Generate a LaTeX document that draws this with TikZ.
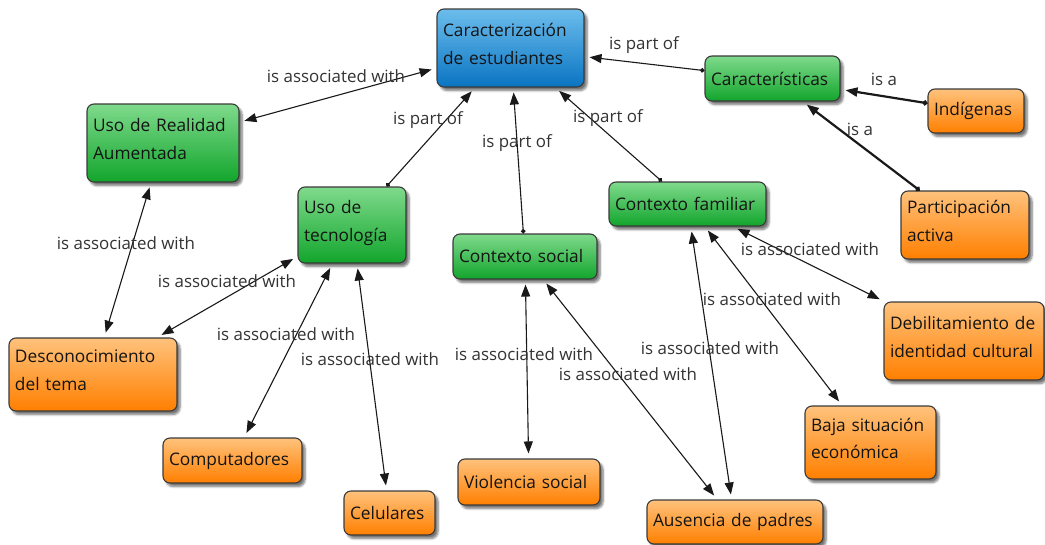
\documentclass[tikz,border=0pt]{standalone}
\usepackage{fontspec}
\setmainfont{Open Sans}
\usetikzlibrary{arrows.meta,shadows.blur}

\definecolor{blueTop}{HTML}{6CBDEC}
\definecolor{blueBot}{HTML}{0A74C2}
\definecolor{greenTop}{HTML}{7FDA8C}
\definecolor{greenBot}{HTML}{12A52C}
\definecolor{orangeTop}{HTML}{FFC27C}
\definecolor{orangeBot}{HTML}{FF7F00}
\definecolor{edgeGray}{HTML}{3A3A3A}
\definecolor{labelGray}{HTML}{333333}

% extra depth below the last line lifts two-line texts slightly
\newcommand\lowpad{\rule[-8.5pt]{0pt}{0pt}}

\tikzset{
  concept/.style={draw=edgeGray, line width=1.1pt, rounded corners=7pt,
    align=left, inner xsep=6pt, inner ysep=0pt, text=black!92,
    font=\fontsize{17.3}{27.5}\selectfont,
    blur shadow={shadow xshift=3pt, shadow yshift=-3.5pt,
      shadow blur steps=6, shadow opacity=55}},
  mainbox/.style={concept, top color=blueTop, bottom color=blueBot},
  subbox/.style={concept, top color=greenTop, bottom color=greenBot},
  leafbox/.style={concept, top color=orangeTop, bottom color=orangeBot},
  linklabel/.style={font=\fontsize{16.9}{19}\selectfont, text=labelGray, inner sep=0pt},
  tipA/.tip={Triangle[length=12pt,width=9pt]},
  assoc/.style={tipA-tipA, line width=1.1pt, draw=black!90,
    shorten <=5pt, shorten >=5pt},
  partof/.style={{Circle[length=4.5pt]}-tipA, line width=1.1pt, draw=black!90,
    shorten >=5pt},
  isa/.style={{Circle[length=5pt]}-tipA, line width=2.2pt, draw=black!90,
    shorten >=5pt}
}

\begin{document}
\begin{tikzpicture}[x=1pt,y=-1pt]
\useasboundingbox (0,0) rectangle (1045,544);

% concepts
\node[mainbox, text width=135pt, minimum height=78pt] (est) at (510.5,48)
  {Caracterización\\de estudiantes\lowpad};
\node[subbox, text width=123pt, minimum height=45pt] (car) at (772.5,78.5)
  {Características};
\node[leafbox, text width=84pt, minimum height=44pt] (ind) at (976,111)
  {Indígenas};
\node[leafbox, text width=116pt, minimum height=68pt] (par) at (965,225)
  {Participación\\activa\lowpad};
\node[subbox, text width=140pt, minimum height=78pt] (ura) at (163,143)
  {Uso de Realidad\\Aumentada\lowpad};
\node[subbox, text width=96pt, minimum height=76pt] (tec) at (352,225)
  {Uso de\\tecnología\lowpad};
\node[subbox, text width=132pt, minimum height=45pt] (soc) at (525,256.5)
  {Contexto social};
\node[subbox, text width=145pt, minimum height=44pt] (fam) at (687.5,204)
  {Contexto familiar};
\node[leafbox, text width=156pt, minimum height=73pt] (des) at (93,374.5)
  {Desconocimiento\\del tema\lowpad};
\node[leafbox, text width=127pt, minimum height=45pt] (com) at (232.5,460.5)
  {Computadores};
\node[leafbox, text width=79pt, minimum height=44pt] (cel) at (389.5,513)
  {Celulares};
\node[leafbox, text width=130pt, minimum height=46pt] (vio) at (529,482)
  {Violencia social};
\node[leafbox, text width=164pt, minimum height=44pt] (aus) at (735,522)
  {Ausencia de padres};
\node[leafbox, text width=119pt, minimum height=73pt] (bsi) at (870.5,442.5)
  {Baja situación\\económica\lowpad};
\node[leafbox, text width=148pt, minimum height=78pt] (deb) at (964,341)
  {Debilitamiento de\\identidad cultural\lowpad};

% links
\draw[partof] (car) -- (est);
\draw[assoc] (est) -- (ura);
\draw[partof] (tec) -- (est);
\draw[partof] (soc) -- (est);
\draw[partof] (fam) -- (est);
\draw[isa] (ind) -- (car);
\draw[isa] (par) -- (car);
\draw[assoc] (ura) -- (des);
\draw[assoc] (tec) -- (des);
\draw[assoc] (tec) -- (com);
\draw[assoc] (tec) -- (cel);
\draw[assoc] (soc) -- (vio);
\draw[assoc] (soc) -- (aus);
\draw[assoc] (fam) -- (aus);
\draw[assoc] (fam) -- (bsi);
\draw[assoc] (fam) -- (deb);

% link labels
\node[linklabel] (l1) at (644,45) {is part of};
\node[linklabel] (l2) at (336,76) {is associated with};
\node[linklabel] (l3) at (884,79) {is a};
\node[linklabel] (l4) at (860,129) {is a};
\node[linklabel] (l5) at (428,120) {is part of};
\node[linklabel] (l6) at (517,143) {is part of};
\node[linklabel] (l7) at (608,118) {is part of};
\node[linklabel] (l8) at (126,243) {is associated with};
\node[linklabel] (l9) at (227,281) {is associated with};
\node[linklabel] (l10) at (286,334) {is associated with};
\node[linklabel] (l11) at (370,359) {is associated with};
\node[linklabel] (l12) at (524,354) {is associated with};
\node[linklabel] (l13) at (628,374) {is associated with};
\node[linklabel] (l14) at (710,348) {is associated with};
\node[linklabel] (l15) at (772,299) {is associated with};
\node[linklabel] (l16) at (810,249) {is associated with};
\end{tikzpicture}
\end{document}
